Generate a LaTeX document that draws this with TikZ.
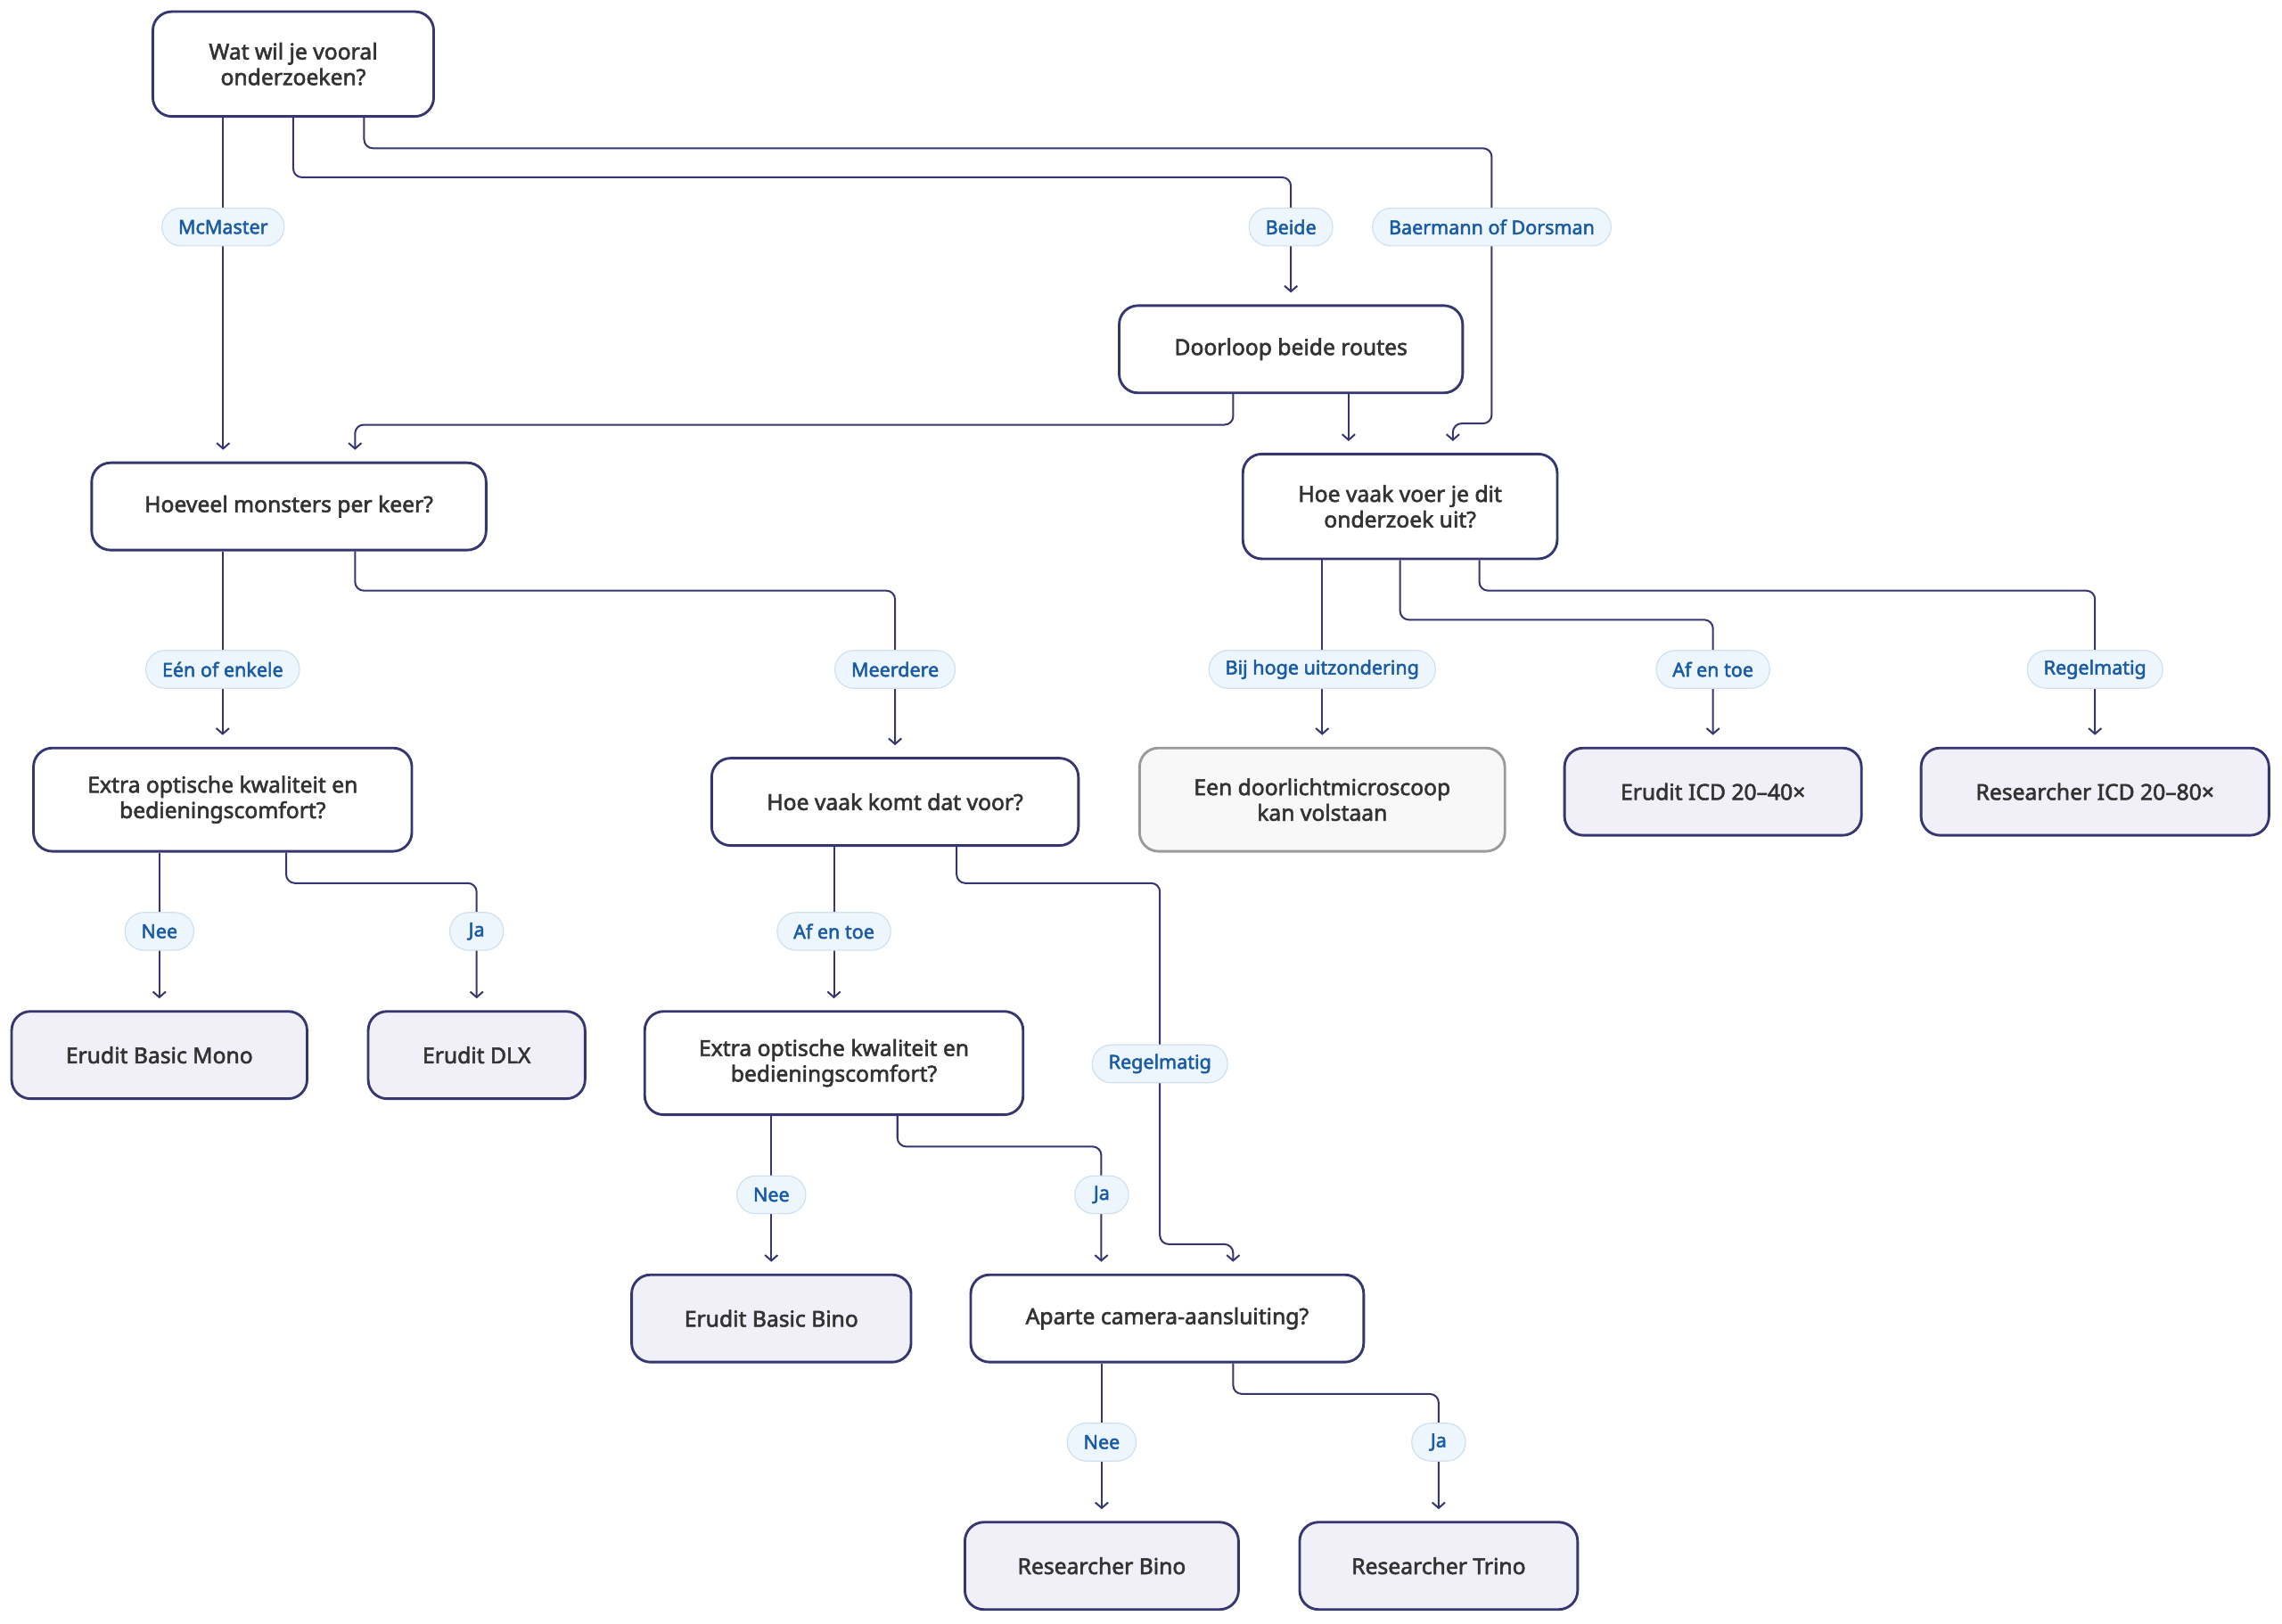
\documentclass[tikz,border=0pt]{standalone}
\usepackage{fontspec}
\setmainfont{Noto Sans}[BoldFont={Noto Sans}, BoldFeatures={FakeBold=2.3}]
\usetikzlibrary{calc,arrows.meta,backgrounds}
\definecolor{navy}{HTML}{363670}
\definecolor{ink}{HTML}{333333}
\definecolor{advfill}{HTML}{F1F0F8}
\definecolor{grijs}{HTML}{9A9A9A}
\definecolor{grijsfill}{HTML}{F8F8F8}
\definecolor{keuzerand}{HTML}{CFDFEE}
\definecolor{keuzefill}{HTML}{EEF6FD}
\definecolor{keuzetekst}{HTML}{1A5BA6}
\tikzset{
	vraag/.style={draw=navy, line width=1pt, rounded corners=2.6mm, fill=white, text=ink, align=center, inner xsep=2mm, font=\fontsize{8.6}{10}\selectfont\bfseries},
	advies/.style={vraag, fill=advfill},
	neutraal/.style={vraag, draw=grijs, fill=grijsfill},
	keuze/.style={draw=keuzerand, line width=0.4pt, fill=keuzefill, text=keuzetekst, rounded corners=2.6mm, minimum height=5.2mm, minimum width=7.4mm, inner xsep=2.25mm, inner ysep=0pt, font=\fontsize{7.5}{9}\selectfont\bfseries},
	pijl/.style={draw=navy, line width=0.7pt, rounded corners=1.2mm, -{Straight Barb[length=2.2pt,width=5pt]}, shorten >=1.6mm},
}

\begin{document}
\begin{tikzpicture}[x=0.2mm, y=-0.2mm]
		%%%%% START %%%%%
		\useasboundingbox (0, 0) rectangle (1568, 1115.4);
		
		\node[vraag, minimum width=38.6mm, minimum height=14.4mm] (q1) at (201.5, 44) {Wat wil je vooral\\onderzoeken?};
		\node[vraag, minimum width=47.2mm, minimum height=12mm] (beide) at (887, 240) {Doorloop beide routes};
		\node[vraag, minimum width=54.2mm, minimum height=12mm] (q2) at (198.5, 348) {Hoeveel monsters per keer?};
		\node[vraag, minimum width=43.2mm, minimum height=14.4mm] (q3) at (962, 348) {Hoe vaak voer je dit\\onderzoek uit?};
		
		\node[vraag, minimum width=52mm, minimum height=14.2mm] (q4) at (153, 549.5) {Extra optische kwaliteit en\\bedieningscomfort?};
		\node[vraag, minimum width=50.4mm, minimum height=12mm] (q5) at (615, 551) {Hoe vaak komt dat voor?};
		\node[neutraal, minimum width=50.2mm, minimum height=14.2mm] (doorlicht) at (908.5, 549.5) {Een doorlichtmicroscoop\\kan volstaan};
		\node[advies, minimum width=40.8mm, minimum height=12mm] (icd40) at (1177, 544) {Erudit ICD 20–40×};
		\node[advies, minimum width=47.8mm, minimum height=12mm] (icd80) at (1439.5, 544) {Researcher ICD 20–80×};
		
		\node[advies, minimum width=40.6mm, minimum height=12mm] (mono) at (109.5, 725) {Erudit Basic Mono};
		\node[advies, minimum width=29.8mm, minimum height=12mm] (dlx) at (327.5, 725) {Erudit DLX};
		\node[vraag, minimum width=52mm, minimum height=14.2mm] (q6) at (573, 730.5) {Extra optische kwaliteit en\\bedieningscomfort?};
		
		\node[advies, minimum width=38.4mm, minimum height=12mm] (bino) at (530, 906) {Erudit Basic Bino};
		\node[vraag, minimum width=54mm, minimum height=12mm] (q7) at (802, 906) {Aparte camera-aansluiting?};
		\node[advies, minimum width=37.6mm, minimum height=12mm] (rbino) at (757, 1076) {Researcher Bino};
		\node[advies, minimum width=38.2mm, minimum height=12mm] (trino) at (988.5, 1076) {Researcher Trino};
		
		\node[keuze] (lMc) at (153.3, 156) {McMaster};
		\node[keuze] (lBeide) at (887, 156) {Beide};
		\node[keuze] (lBaer) at (1025, 156) {Baermann of Dorsman};
		\node[keuze] (lEen) at (153, 460) {Eén of enkele};
		\node[keuze] (lMeer) at (615, 460) {Meerdere};
		\node[keuze] (lBij) at (908.5, 460) {Bij hoge uitzondering};
		\node[keuze] (lAf1) at (1177, 460) {Af en toe};
		\node[keuze] (lReg1) at (1439.5, 460) {Regelmatig};
		\node[keuze] (lNee1) at (109.5, 640) {Nee};
		\node[keuze] (lJa1) at (327.5, 640) {Ja};
		\node[keuze] (lAf2) at (573, 640) {Af en toe};
		\node[keuze] (lReg2) at (797, 731) {Regelmatig};
		\node[keuze] (lNee2) at (530, 821) {Nee};
		\node[keuze] (lJa2) at (757, 821) {Ja};
		\node[keuze] (lNee3) at (757, 991) {Nee};
		\node[keuze] (lJa3) at (988.5, 991) {Ja};
		
		\begin{scope}[on background layer]
		\draw[pijl] (q1.south -| lMc) -- (q2.north -| lMc);
		\draw[pijl] (q1.south) -- ++(0, 41) -| (lBeide.center) -- (beide.north);
		\draw[pijl] ($(q1.south)!0.5!(q1.south east)$) -- ++(0, 21) -| (lBaer.center) -- ++(0, 135) -| ($(q3.north west)!2/3!(q3.north east)$);
		
		\draw[pijl] ($(beide.south west)!1/3!(beide.south east)$) -- ++(0, 21) -| ($(q2.north west)!2/3!(q2.north east)$);
		\draw[pijl] ($(beide.south west)!2/3!(beide.south east)$) coordinate (b2) -- (b2 |- q3.north);
		
		\draw[pijl] (q2.south -| q4.north) -- (q4.north);
		\draw[pijl] ($(q2.south west)!2/3!(q2.south east)$) -- ++(0, 27) -| (lMeer.center) -- (q5.north);
		
		\draw[pijl] (q3.south -| doorlicht.north) -- (doorlicht.north);
		\draw[pijl] (q3.south) -- ++(0, 41) -| (lAf1.center) -- (icd40.north);
		\draw[pijl] ($(q3.south)!0.5!(q3.south east)$) -- ++(0, 21) -| (lReg1.center) -- (icd80.north);
		
		\draw[pijl] (q4.south -| mono.north) -- (mono.north);
		\draw[pijl] ($(q4.south west)!2/3!(q4.south east)$) -- ++(0, 21) -| (lJa1.center) -- (dlx.north);
		
		\draw[pijl] (q5.south -| q6.north) -- (q6.north);
		\draw[pijl] ($(q5.south west)!2/3!(q5.south east)$) -- ++(0, 25) -| (lReg2.center) -- ++(0, 124) -| ($(q7.north west)!2/3!(q7.north east)$);
		
		\draw[pijl] (q6.south -| bino.north) -- (bino.north);
		\draw[pijl] ($(q6.south west)!2/3!(q6.south east)$) -- ++(0, 21) -| ($(q7.north west)!1/3!(q7.north east)$);
		
		\draw[pijl] (q7.south -| rbino.north) -- (rbino.north);
		\draw[pijl] ($(q7.south west)!2/3!(q7.south east)$) -- ++(0, 21) -| (lJa3.center) -- (trino.north);
		\end{scope}
		
		%%%%% END %%%%%
\end{tikzpicture}
\end{document}
